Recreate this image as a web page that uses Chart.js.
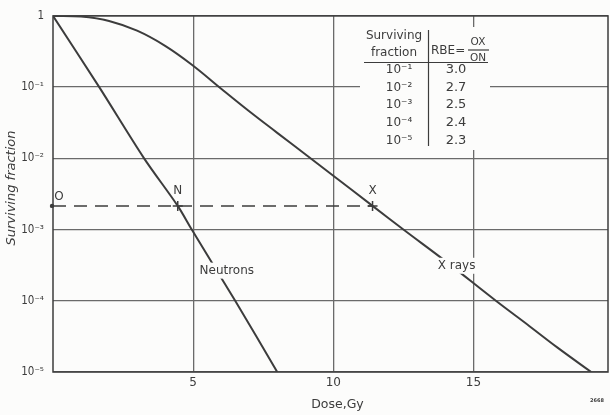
<!DOCTYPE html>
<html>
<head>
<meta charset="utf-8">
<script src="https://cdn.jsdelivr.net/npm/chart.js@4.4.0/dist/chart.umd.min.js"></script>
<style>
  html,body{margin:0;padding:0;background:#fcfcfb;}
  #wrap{width:610px;height:415px;position:relative;}
</style>
</head>
<body>
<div id="wrap"><canvas id="c" width="610" height="415"></canvas></div>
<script>
// ---- data ----
const neutronDose = [0, 1.65, 3.25, 4.45, 4.95, 6.5, 8.0];
const neutronSF   = [1, 0.1, 0.01, 0.00215, 0.001, 0.0001, 0.00001];
const xrayDose = [0, 1, 2, 3, 4, 5, 6, 7, 8, 9, 10, 11.4, 12.5, 14, 15.8, 17, 18, 19.2];
const xraySF   = [1, 0.98, 0.85, 0.62, 0.38, 0.2, 0.095, 0.0458, 0.0228, 0.0114, 0.0057, 0.00215, 0.001, 0.00036, 0.0001, 0.000044, 0.000022, 0.00001];
const refSF = 0.00215;               // level of O, N, X
const markerDose = [4.45, 11.4];     // N and X
const yTickValues = [1, 0.1, 0.01, 0.001, 0.0001, 0.00001];
const yTickLabels = ['1', '10⁻¹', '10⁻²', '10⁻³', '10⁻⁴', '10⁻⁵'];
const xTickValues = [5, 10, 15];
const tableSF  = ['10⁻¹', '10⁻²', '10⁻³', '10⁻⁴', '10⁻⁵'];
const tableRBE = ['3.0', '2.7', '2.5', '2.4', '2.3'];

const INK = '#3c3c3c';
const GRID = '#6a6a6a';
const BG = '#fcfcfb';
const FONT = '"DejaVu Sans", sans-serif';
const NFONT = '"Liberation Sans Narrow", "DejaVu Sans Condensed", sans-serif';

const pts = (xs, ys) => xs.map((x, i) => ({x, y: ys[i]}));

const overlay = {
  id: 'overlay',
  beforeDraw(chart) {
    const c = chart.ctx;
    c.save(); c.fillStyle = BG; c.fillRect(0, 0, chart.width, chart.height); c.restore();
  },
  beforeDatasetsDraw(chart) {
    const c = chart.ctx, a = chart.chartArea;
    c.save();
    // frame
    c.strokeStyle = INK; c.lineWidth = 1.5;
    c.strokeRect(a.left, a.top, a.right - a.left, a.bottom - a.top);
    // table box (covers gridlines)
    const L = 360, R = 490, T = 27, B = 150;
    c.fillStyle = BG; c.fillRect(L, T, R - L, B - T);
    c.fillStyle = INK; c.strokeStyle = INK; c.lineWidth = 1.2;
    c.textBaseline = 'middle';
    c.font = '12px ' + FONT;
    c.textAlign = 'center';
    c.fillText('Surviving', 394, 36);
    c.fillText('fraction', 394, 53);
    c.textAlign = 'left';
    c.fillText('RBE=', 431, 51);
    c.font = '10.5px ' + FONT;
    c.textAlign = 'center';
    c.fillText('OX', 478, 42);
    c.fillText('ON', 478, 58);
    c.beginPath(); c.moveTo(468, 50); c.lineTo(489, 50); c.stroke();
    c.beginPath(); c.moveTo(364, 62.5); c.lineTo(488, 62.5); c.stroke();
    c.beginPath(); c.moveTo(428.5, 30); c.lineTo(428.5, 146); c.stroke();
    const rowY = [70, 88, 105, 123, 141];
    tableSF.forEach((t, i) => {
      c.font = '12px ' + FONT;
      c.fillText(t, 399, rowY[i]);
      c.font = '13px ' + FONT;
      c.fillText(tableRBE[i], 456, rowY[i]);
    });
    c.restore();
  },
  afterDatasetsDraw(chart) {
    const c = chart.ctx, a = chart.chartArea;
    const xs = chart.scales.x, ys = chart.scales.y;
    c.save();
    c.fillStyle = INK; c.strokeStyle = INK;
    c.textBaseline = 'middle'; c.textAlign = 'center';
    const yRef = ys.getPixelForValue(refSF);
    // O dot and labels
    c.beginPath(); c.arc(a.left - 1, yRef, 2.2, 0, Math.PI * 2); c.fill();
    c.font = '12px ' + FONT;
    c.fillText('O', a.left + 6, yRef - 9);
    c.fillText('N', xs.getPixelForValue(markerDose[0]), yRef - 15);
    c.fillText('X', xs.getPixelForValue(markerDose[1]), yRef - 15);
    // + markers
    c.lineWidth = 1.5;
    markerDose.forEach(d => {
      const px = xs.getPixelForValue(d);
      c.beginPath();
      c.moveTo(px - 5, yRef); c.lineTo(px + 5, yRef);
      c.moveTo(px, yRef - 5); c.lineTo(px, yRef + 5);
      c.stroke();
    });
    // curve labels with gaps
    const lab = (t, x, y) => {
      c.font = '12px ' + FONT;
      const w = c.measureText(t).width;
      c.fillStyle = BG; c.fillRect(x - w / 2 - 3, y - 8, w + 6, 16);
      c.fillStyle = INK; c.fillText(t, x, y);
    };
    lab('Neutrons', xs.getPixelForValue(6.2), ys.getPixelForValue(0.000265));
    lab('X rays', xs.getPixelForValue(14.4), ys.getPixelForValue(0.00031));
    // axis titles
    c.font = '12.5px ' + FONT;
    c.fillText('Dose,Gy', (a.left + a.right) / 2 + 7, 405);
    c.save();
    c.translate(12, 188); c.rotate(-Math.PI / 2);
    c.font = 'italic 13px ' + FONT;
    c.fillText('Surviving fraction', 0, 0);
    c.restore();
    c.font = 'bold 5px ' + FONT;
    c.fillText('2668', 597, 401);
    c.restore();
  }
};

new Chart(document.getElementById('c'), {
  type: 'line',
  data: {
    datasets: [
      { data: pts(neutronDose, neutronSF), borderColor: INK, borderWidth: 2, pointRadius: 0, tension: 0.3 },
      { data: pts(xrayDose, xraySF), borderColor: INK, borderWidth: 2, pointRadius: 0, tension: 0.4 },
      { data: [{x: 0, y: refSF}, {x: markerDose[1], y: refSF}], borderColor: INK, borderWidth: 1.5, borderDash: [13, 8], pointRadius: 0 }
    ]
  },
  options: {
    responsive: false, animation: false, devicePixelRatio: 1,
    layout: { padding: { top: 14, right: 2, left: 0, bottom: 0 } },
    plugins: { legend: { display: false }, tooltip: { enabled: false } },
    scales: {
      x: {
        type: 'linear', min: 0, max: 19.8,
        afterFit: s => { s.height = 43; },
        afterBuildTicks: s => { s.ticks = xTickValues.map(v => ({value: v})); },
        grid: { color: GRID, lineWidth: 1.3, drawTicks: false },
        border: { display: false },
        ticks: { color: INK, padding: 4, font: { family: FONT, size: 12 }, callback: v => String(v) }
      },
      y: {
        type: 'logarithmic', min: 0.00001, max: 1,
        afterFit: s => { s.width = 53; },
        afterBuildTicks: s => { s.ticks = yTickValues.map(v => ({value: v})); },
        grid: { color: GRID, lineWidth: 1.3, drawTicks: false },
        border: { display: false },
        ticks: { color: INK, padding: 9, font: { family: NFONT, size: 11.5 },
          callback: (v) => { const i = yTickValues.findIndex(t => Math.abs(Math.log10(t) - Math.log10(v)) < 1e-6); return i >= 0 ? yTickLabels[i] : ''; } }
      }
    }
  },
  plugins: [overlay]
});
</script>
</body>
</html>
